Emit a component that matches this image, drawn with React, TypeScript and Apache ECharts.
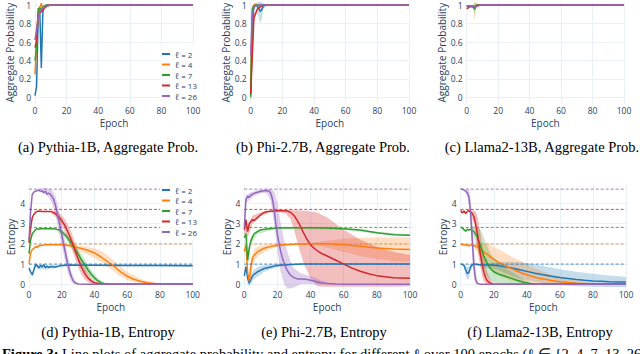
import React, { useEffect, useRef } from 'react';
import * as echarts from 'echarts';

type Pt = [number, number];
type Band = [number, number, number];

const ELLS = ['ℓ = 2', 'ℓ = 4', 'ℓ = 7', 'ℓ = 13', 'ℓ = 26'];
const COLORS = ['#1f77b4', '#ff7f0e', '#2ca02c', '#d62728', '#9467bd'];
const BAND_COLORS = [
  'rgba(31,119,180,0.25)',
  'rgba(255,127,14,0.25)',
  'rgba(44,160,44,0.25)',
  'rgba(214,39,40,0.3)',
  'rgba(148,103,189,0.3)',
];
const MAX_ENTROPY = [1, 2, 2.81, 3.7, 4.7];
const PROB_TICKS = [0, 0.2, 0.4, 0.6, 0.8, 1];
const ENTROPY_TICKS = [0, 1, 2, 3, 4];
const CAPTIONS_TOP = ['(a) Pythia-1B, Aggregate Prob.', '(b) Phi-2.7B, Aggregate Prob.', '(c) Llama2-13B, Aggregate Prob.'];
const CAPTIONS_BOTTOM = ['(d) Pythia-1B, Entropy', '(e) Phi-2.7B, Entropy', '(f) Llama2-13B, Entropy'];

// (a) Pythia-1B aggregate probability
const pythiaProbMean: Pt[][] = [
  [[0, 0.02], [1, 0.12], [2, 0.88], [3, 0.96], [4, 0.32], [5, 0.95], [6, 0.99], [8, 1], [100, 1]],
  [[0, 0.25], [1, 0.62], [2, 0.93], [3, 0.97], [4, 1.02], [5, 0.95], [6, 0.98], [8, 1], [100, 1]],
  [[0, 0.4], [1, 0.55], [2, 0.96], [3, 0.97], [4, 0.95], [5, 0.98], [7, 1], [100, 1]],
  [[0, 0.54], [1, 0.62], [2, 0.88], [3, 0.91], [4, 0.93], [5, 0.94], [6, 0.97], [8, 0.99], [10, 1], [100, 1]],
  [[0, 0.62], [1, 0.74], [2, 0.86], [3, 0.92], [4, 0.95], [5, 0.97], [7, 0.98], [9, 1], [100, 1]],
];
const pythiaProbBand: Band[][] = [[], [], [], [], []];

// (b) Phi-2.7B aggregate probability
const phiProbMean: Pt[][] = [
  [[0, 0.03], [1, 0.75], [2, 0.99], [3, 1], [4, 0.99], [5, 0.97], [6, 0.93], [7, 0.95], [8, 0.99], [10, 1], [100, 1]],
  [[0, 0.08], [1, 0.92], [2, 1], [3, 1.01], [4, 1], [100, 1]],
  [[0, 0], [1, 0.96], [2, 0.99], [3, 1], [100, 1]],
  [[0, 0.04], [1, 0.45], [2, 0.86], [3, 0.9], [4, 0.95], [5, 0.97], [6, 0.98], [8, 1], [100, 1]],
  [[0, 0.45], [1, 0.88], [2, 0.97], [3, 0.99], [5, 1], [100, 1]],
];
const phiProbBand: Band[][] = [
  [[3, 0.99, 1.01], [4, 0.95, 1.03], [5, 0.86, 1.08], [6, 0.8, 1.06], [7, 0.85, 1.05], [8, 0.96, 1.02], [10, 1, 1]],
  [],
  [],
  [[1, 0.25, 0.65], [2, 0.8, 0.92], [3, 0.88, 0.93]],
  [[0, 0.25, 0.7], [1, 0.75, 1.0], [2, 0.95, 0.99], [3, 0.98, 1.0]],
];

// (c) Llama2-13B aggregate probability
const llamaProbMean: Pt[][] = [
  [[0, 0.99], [4, 0.99], [5, 0.97], [6, 0.99], [8, 1], [100, 1]],
  [[0, 0.98], [2, 0.99], [4, 0.98], [5, 0.95], [6, 0.99], [8, 1], [100, 1]],
  [[0, 0.99], [4, 0.99], [5, 0.96], [6, 1], [100, 1]],
  [[0, 0.96], [1, 0.97], [2, 0.98], [3, 0.985], [4, 0.98], [5, 0.975], [6, 0.99], [8, 1], [100, 1]],
  [[0, 0.99], [3, 0.99], [5, 0.98], [7, 0.99], [9, 1], [100, 1]],
];
const llamaProbBand: Band[][] = [
  [[4, 0.98, 1], [5, 0.94, 1.0], [6, 0.98, 1]],
  [[4, 0.97, 0.99], [5, 0.82, 1.06], [6, 0.95, 1.03], [7, 0.99, 1.01]],
  [[4, 0.98, 1.0], [5, 0.9, 1.02], [6, 0.98, 1.02], [7, 1, 1]],
  [],
  [],
];

// (d) Pythia-1B entropy
const pythiaEntMean: Pt[][] = [
  [[0, 0.8], [1, 0.62], [2, 0.46], [3, 0.72], [4, 0.97], [5, 0.93], [6, 0.82], [7, 0.92], [8, 0.86], [9, 0.97], [10, 0.82], [11, 0.9], [12, 0.84], [14, 0.88], [16, 0.86], [18, 0.9], [20, 0.93], [25, 0.95], [30, 0.94], [40, 0.94], [60, 0.93], [80, 0.93], [100, 0.92]],
  [[0, 1.02], [1, 1.55], [2, 1.72], [3, 1.78], [4, 1.86], [5, 1.82], [6, 1.9], [8, 1.93], [10, 1.95], [14, 1.96], [18, 1.96], [20, 1.95], [24, 1.92], [28, 1.85], [32, 1.77], [36, 1.68], [40, 1.55], [44, 1.35], [48, 1.12], [52, 0.88], [56, 0.62], [60, 0.4], [64, 0.25], [68, 0.15], [72, 0.08], [76, 0.04], [80, 0.02], [85, 0], [100, 0]],
  [[0, 1.52], [1, 2.2], [2, 2.5], [3, 2.6], [4, 2.7], [5, 2.75], [6, 2.72], [8, 2.76], [10, 2.74], [12, 2.74], [14, 2.75], [16, 2.73], [18, 2.7], [20, 2.6], [22, 2.45], [24, 2.25], [26, 2.0], [28, 1.75], [30, 1.5], [32, 1.22], [34, 0.98], [36, 0.72], [38, 0.5], [40, 0.32], [42, 0.18], [44, 0.08], [46, 0.03], [50, 0], [100, 0]],
  [[0, 2.05], [1, 2.8], [2, 3.3], [3, 3.45], [4, 3.55], [5, 3.6], [6, 3.62], [8, 3.6], [10, 3.6], [12, 3.6], [14, 3.58], [16, 3.5], [18, 3.35], [20, 3.15], [22, 2.9], [24, 2.55], [26, 2.15], [28, 1.7], [30, 1.25], [32, 0.85], [34, 0.55], [36, 0.32], [38, 0.17], [40, 0.08], [44, 0.02], [48, 0], [100, 0]],
  [[0, 2.2], [1, 3.6], [2, 4.45], [3, 4.55], [4, 4.6], [5, 4.62], [6, 4.66], [7, 4.58], [8, 4.63], [9, 4.52], [10, 4.6], [11, 4.45], [12, 4.5], [13, 4.45], [14, 4.35], [15, 4.2], [16, 3.95], [17, 3.6], [18, 3.25], [19, 2.85], [20, 2.45], [21, 2.05], [22, 1.65], [23, 1.25], [24, 0.9], [25, 0.6], [26, 0.35], [27, 0.18], [28, 0.08], [30, 0.02], [34, 0], [100, 0]],
];
const pythiaEntBand: Band[][] = [
  [[2, 0.35, 0.55], [4, 0.85, 1.05], [6, 0.72, 0.92], [8, 0.76, 0.96], [10, 0.72, 0.92], [12, 0.76, 0.94], [16, 0.8, 0.93], [20, 0.88, 0.97], [30, 0.9, 0.98], [100, 0.88, 0.97]],
  [[20, 1.9, 2.0], [25, 1.85, 1.98], [30, 1.7, 1.92], [35, 1.5, 1.85], [40, 1.3, 1.78], [45, 1.05, 1.62], [50, 0.75, 1.3], [55, 0.45, 0.95], [60, 0.22, 0.62], [65, 0.1, 0.4], [70, 0.03, 0.22], [75, 0, 0.12], [80, 0, 0.06], [85, 0, 0.02]],
  [[18, 2.6, 2.8], [22, 2.3, 2.6], [26, 1.8, 2.2], [30, 1.25, 1.75], [34, 0.7, 1.25], [38, 0.3, 0.7], [42, 0.08, 0.3], [46, 0, 0.08], [50, 0, 0.01]],
  [[14, 3.5, 3.65], [16, 3.35, 3.62], [18, 3.15, 3.55], [20, 2.9, 3.4], [22, 2.6, 3.2], [24, 2.2, 2.9], [26, 1.75, 2.55], [28, 1.3, 2.1], [30, 0.85, 1.65], [32, 0.5, 1.2], [34, 0.25, 0.85], [36, 0.1, 0.55], [38, 0.03, 0.3], [40, 0, 0.15], [44, 0, 0.04]],
  [[8, 4.5, 4.75], [10, 4.45, 4.78], [12, 4.3, 4.72], [14, 4.0, 4.65], [16, 3.5, 4.4], [18, 2.7, 3.8], [20, 1.9, 3.0], [22, 1.15, 2.15], [24, 0.5, 1.3], [26, 0.12, 0.6], [28, 0, 0.2], [30, 0, 0.05]],
];

// (e) Phi-2.7B entropy
const phiEntMean: Pt[][] = [
  [[0, 0.42], [1, 0.88], [2, 0.3], [3, 0.05], [4, 0.25], [5, 0.42], [6, 0.5], [8, 0.62], [10, 0.7], [12, 0.78], [14, 0.82], [16, 0.86], [18, 0.9], [20, 0.93], [24, 0.96], [28, 0.98], [35, 1.0], [50, 1.0], [100, 1.0]],
  [[0, 1.62], [1, 1.95], [2, 0.6], [3, 0.15], [4, 0.9], [5, 1.3], [6, 1.45], [8, 1.6], [10, 1.7], [12, 1.78], [15, 1.85], [20, 1.93], [25, 1.96], [30, 1.98], [40, 2.0], [50, 2.0], [60, 1.95], [70, 1.88], [80, 1.8], [90, 1.75], [100, 1.72]],
  [[0, 2.3], [1, 2.5], [2, 1.2], [3, 1.8], [4, 2.15], [5, 2.35], [6, 2.5], [8, 2.6], [10, 2.7], [12, 2.72], [15, 2.75], [20, 2.78], [30, 2.8], [40, 2.8], [50, 2.78], [60, 2.75], [70, 2.68], [80, 2.55], [90, 2.45], [100, 2.42]],
  [[0, 2.7], [1, 3.2], [2, 2.6], [3, 3.0], [4, 3.1], [5, 3.2], [6, 3.15], [8, 3.3], [10, 3.45], [12, 3.55], [14, 3.6], [18, 3.62], [22, 3.64], [26, 3.62], [28, 3.55], [30, 3.4], [32, 3.15], [34, 2.85], [36, 2.5], [38, 2.2], [40, 1.95], [43, 1.72], [46, 1.55], [50, 1.4], [55, 1.2], [60, 1.0], [65, 0.8], [70, 0.65], [75, 0.52], [80, 0.43], [85, 0.37], [90, 0.33], [100, 0.3]],
  [[0, 2.8], [1, 4.2], [2, 4.35], [3, 4.3], [4, 4.4], [5, 4.45], [6, 4.5], [8, 4.55], [10, 4.6], [12, 4.62], [14, 4.62], [15, 4.6], [16, 4.5], [17, 4.2], [18, 3.7], [19, 3.0], [20, 2.45], [21, 2.0], [22, 1.6], [23, 1.3], [24, 1.05], [25, 0.85], [26, 0.68], [27, 0.55], [28, 0.45], [30, 0.33], [32, 0.27], [35, 0.26], [38, 0.24], [40, 0.2], [43, 0.14], [46, 0.08], [50, 0.04], [55, 0.02], [60, 0.01], [70, 0], [100, 0]],
];
const phiEntBand: Band[][] = [
  [[2, 0, 0.6], [3, -0.1, 0.25], [4, 0.05, 0.5], [6, 0.25, 0.75], [8, 0.4, 0.84], [10, 0.5, 0.9], [12, 0.62, 0.94], [15, 0.72, 0.97], [20, 0.86, 1.0], [25, 0.93, 1.0], [30, 0.97, 1.0], [35, 1.0, 1.0]],
  [[3, 0, 0.5], [4, 0.5, 1.3], [6, 1.15, 1.75], [8, 1.35, 1.85], [10, 1.5, 1.9], [15, 1.72, 1.98], [20, 1.85, 2.0], [30, 1.93, 2.02], [40, 1.95, 2.05], [50, 1.82, 2.15], [60, 1.6, 2.25], [70, 1.4, 2.3], [80, 1.25, 2.32], [90, 1.15, 2.32], [100, 1.1, 2.32]],
  [[1, 2.4, 2.6], [2, 0.8, 1.6], [4, 1.95, 2.35], [8, 2.5, 2.7], [20, 2.74, 2.82], [60, 2.7, 2.8], [80, 2.5, 2.6], [100, 2.38, 2.46]],
  [[0, 2.5, 2.9], [2, 2.3, 2.9], [5, 3.0, 3.4], [10, 3.35, 3.55], [15, 3.55, 3.65], [20, 3.58, 3.68], [25, 3.5, 3.68], [28, 3.2, 3.68], [30, 2.7, 3.66], [33, 1.8, 3.65], [36, 1.0, 3.65], [40, 0.3, 3.6], [44, -0.1, 3.55], [50, -0.12, 3.3], [55, -0.12, 3.0], [60, -0.12, 2.7], [70, -0.12, 2.2], [80, -0.12, 1.85], [90, -0.12, 1.6], [100, -0.1, 1.45]],
  [[0, 2.4, 3.2], [1, 4.0, 4.4], [4, 4.25, 4.55], [8, 4.45, 4.65], [12, 4.52, 4.7], [14, 4.45, 4.72], [16, 4.1, 4.72], [18, 3.0, 4.6], [20, 1.6, 4.0], [22, 0.6, 3.0], [24, 0.0, 2.2], [26, -0.2, 1.6], [28, -0.2, 1.1], [30, -0.15, 0.8], [34, 0.0, 0.55], [38, 0.02, 0.45], [42, 0, 0.35], [46, 0, 0.2], [50, 0, 0.1], [55, 0, 0.04]],
];

// (f) Llama2-13B entropy
const llamaEntMean: Pt[][] = [
  [[0, 1.0], [1, 0.98], [2, 0.92], [3, 0.72], [4, 0.52], [5, 0.6], [6, 0.85], [7, 0.97], [8, 1.0], [10, 0.98], [14, 0.96], [18, 0.95], [22, 0.93], [26, 0.88], [30, 0.82], [35, 0.73], [40, 0.64], [45, 0.55], [50, 0.47], [55, 0.4], [60, 0.34], [65, 0.29], [70, 0.24], [75, 0.2], [80, 0.17], [85, 0.15], [90, 0.13], [95, 0.12], [100, 0.11]],
  [[0, 2.0], [1, 1.95], [2, 1.97], [3, 1.93], [4, 1.95], [5, 1.9], [6, 1.95], [8, 1.92], [10, 1.85], [12, 1.72], [14, 1.6], [16, 1.48], [18, 1.36], [20, 1.24], [22, 1.13], [25, 1.0], [28, 0.88], [30, 0.8], [34, 0.66], [38, 0.52], [42, 0.42], [46, 0.33], [50, 0.26], [55, 0.19], [60, 0.13], [65, 0.09], [70, 0.06], [75, 0.04], [80, 0.02], [90, 0.01], [100, 0]],
  [[0, 2.82], [1, 2.78], [2, 2.7], [3, 2.62], [4, 2.72], [5, 2.68], [6, 2.72], [8, 2.6], [10, 2.35], [12, 1.9], [14, 1.4], [16, 1.05], [18, 0.78], [20, 0.62], [23, 0.5], [26, 0.42], [30, 0.32], [34, 0.2], [38, 0.1], [42, 0.04], [46, 0.01], [50, 0], [100, 0]],
  [[0, 3.65], [1, 3.52], [2, 3.62], [3, 3.5], [4, 3.6], [5, 3.65], [6, 3.55], [7, 3.5], [8, 3.35], [9, 3.0], [10, 2.55], [11, 2.0], [12, 1.45], [13, 0.95], [14, 0.6], [15, 0.35], [16, 0.18], [18, 0.05], [20, 0.01], [22, 0], [100, 0]],
  [[0, 4.72], [1, 4.7], [2, 4.65], [3, 4.6], [4, 4.52], [5, 4.3], [6, 3.5], [7, 2.2], [8, 0.9], [9, 0.25], [10, 0.05], [12, 0], [100, 0]],
];
const llamaEntBand: Band[][] = [
  [[2, 0.85, 1.0], [3, 0.45, 0.95], [4, 0.2, 0.85], [5, 0.3, 0.9], [6, 0.7, 1.0], [8, 0.95, 1.02], [12, 0.88, 1.03], [16, 0.8, 1.05], [20, 0.8, 1.06], [25, 0.62, 1.1], [30, 0.45, 1.12], [35, 0.3, 1.1], [40, 0.2, 1.05], [50, 0.05, 0.9], [60, -0.05, 0.75], [70, -0.1, 0.62], [80, -0.12, 0.52], [90, -0.13, 0.44], [100, -0.14, 0.38]],
  [[8, 1.85, 1.98], [10, 1.6, 2.0], [12, 1.3, 2.0], [15, 1.0, 2.0], [18, 0.75, 1.95], [20, 0.6, 1.85], [25, 0.35, 1.65], [30, 0.2, 1.4], [35, 0.1, 1.2], [40, 0.05, 1.0], [45, 0.02, 0.8], [50, 0, 0.62], [55, 0, 0.48], [60, 0, 0.36], [65, 0, 0.26], [70, 0, 0.18], [75, 0, 0.1], [80, 0, 0.05], [90, 0, 0.02]],
  [[6, 2.6, 2.8], [8, 2.3, 2.85], [10, 1.8, 2.85], [12, 1.2, 2.7], [14, 0.7, 2.3], [16, 0.4, 1.9], [18, 0.2, 1.55], [20, 0.1, 1.3], [24, 0.02, 1.0], [28, 0, 0.75], [32, 0, 0.55], [36, 0, 0.35], [40, 0, 0.15], [44, 0, 0.05]],
  [[6, 3.45, 3.65], [8, 3.0, 3.65], [9, 2.5, 3.6], [10, 1.9, 3.4], [11, 1.3, 3.0], [12, 0.8, 2.5], [13, 0.4, 1.9], [14, 0.15, 1.4], [15, 0.05, 0.9], [16, 0, 0.6], [18, 0, 0.25], [20, 0, 0.05]],
  [[3, 4.5, 4.7], [4, 4.35, 4.7], [5, 3.9, 4.7], [6, 2.8, 4.3], [7, 1.4, 3.2], [8, 0.3, 1.8], [9, 0, 0.7], [10, 0, 0.15], [11, 0, 0.02]],
];

const PANELS = [
  { kind: 'prob', mean: pythiaProbMean, band: pythiaProbBand },
  { kind: 'prob', mean: phiProbMean, band: phiProbBand },
  { kind: 'prob', mean: llamaProbMean, band: llamaProbBand },
  { kind: 'ent', mean: pythiaEntMean, band: pythiaEntBand },
  { kind: 'ent', mean: phiEntMean, band: phiEntBand },
  { kind: 'ent', mean: llamaEntMean, band: llamaEntBand },
];

// layout (pixels)
const LAYOUT = [
  { left: 35, top: 1.8, width: 158, height: 101.7, yNameGap: 15.7, xMargin: 2.5, xNameGap: 14.5 },
  { left: 250.7, top: 1.8, width: 158.3, height: 101.7, yNameGap: 14.7, xMargin: 2.5, xNameGap: 14.5 },
  { left: 466.7, top: 1.8, width: 157.3, height: 101.7, yNameGap: 14.7, xMargin: 2.5, xNameGap: 14.5 },
  { left: 29, top: 185.1, width: 163.7, height: 103.7, yNameGap: 9.7, xMargin: 1.2, xNameGap: 12.9 },
  { left: 244.3, top: 185.1, width: 165.7, height: 103.7, yNameGap: 8.3, xMargin: 1.2, xNameGap: 12.9 },
  { left: 460.7, top: 185.1, width: 165.3, height: 103.7, yNameGap: 8.7, xMargin: 1.2, xNameGap: 12.9 },
];

const FONT = '"Open Sans", "DejaVu Sans", sans-serif';
const SERIF = '"Liberation Serif", "Times New Roman", serif';
const TEXT = '#2a3f5f';
const GRID = '#ebf0f8';

function buildOption(): any {
  const grids: any[] = [];
  const xAxes: any[] = [];
  const yAxes: any[] = [];
  const series: any[] = [];

  PANELS.forEach((p, i) => {
    const L = LAYOUT[i];
    const isProb = p.kind === 'prob';
    grids.push({ left: L.left, top: L.top, width: L.width, height: L.height, containLabel: false, outerBoundsMode: 'none' });
    xAxes.push({
      type: 'value', gridIndex: i, min: 0, max: 100, interval: 20,
      axisLine: { show: false, onZero: false }, axisTick: { show: false },
      splitLine: { show: true, lineStyle: { color: GRID, width: 1 } },
      axisLabel: { fontSize: 8.5, color: TEXT, fontFamily: FONT, margin: L.xMargin },
      name: 'Epoch', nameLocation: 'middle', nameGap: L.xNameGap,
      nameTextStyle: { fontSize: 10, color: TEXT, fontFamily: FONT },
    });
    const ticks = isProb ? PROB_TICKS : ENTROPY_TICKS;
    yAxes.push({
      type: 'value', gridIndex: i,
      min: isProb ? -0.065 : -0.22, max: isProb ? 1.035 : 4.9,
      axisLine: { show: false, onZero: false },
      axisTick: { show: false, customValues: ticks },
      splitLine: { show: true, lineStyle: { color: GRID, width: 1 } },
      axisLabel: { fontSize: 8.5, color: TEXT, fontFamily: FONT, margin: 4, customValues: ticks },
      name: isProb ? 'Aggregate Probability' : 'Entropy', nameLocation: 'middle', nameGap: L.yNameGap,
      nameTextStyle: { fontSize: 10, color: TEXT, fontFamily: FONT },
    });

    p.band.forEach((band, k) => {
      if (!band.length) return;
      series.push({
        type: 'custom', coordinateSystem: 'cartesian2d', xAxisIndex: i, yAxisIndex: i,
        name: `band-${i}-${k}`, silent: true, z: 1,
        data: [[50, 0.5]], encode: { x: 0, y: 1 },
        renderItem: (params: any, api: any) => {
          const cs = params.coordSys;
          const cl = (pt: number[]) => [
            Math.min(Math.max(pt[0], cs.x), cs.x + cs.width),
            Math.min(Math.max(pt[1], cs.y), cs.y + cs.height),
          ];
          const upper = band.map((b) => cl(api.coord([b[0], b[2]])));
          const lower = band.slice().reverse().map((b) => cl(api.coord([b[0], b[1]])));
          return { type: 'polygon', shape: { points: upper.concat(lower) }, style: { fill: BAND_COLORS[k] } };
        },
      });
    });

    if (!isProb) {
      MAX_ENTROPY.forEach((v, k) => {
        series.push({
          type: 'line', xAxisIndex: i, yAxisIndex: i, name: `max-${k}`, z: 3,
          data: [[0, v], [100, v]], symbol: 'none', silent: true, color: COLORS[k],
          lineStyle: { width: 1, type: [3, 2], color: COLORS[k], opacity: 0.85 },
        });
      });
    }

    p.mean.forEach((line, k) => {
      series.push({
        type: 'line', xAxisIndex: i, yAxisIndex: i, name: ELLS[k], z: 2,
        data: line, symbol: 'none', showSymbol: false, color: COLORS[k],
        lineStyle: { width: 1.5, color: COLORS[k] },
      });
    });
  });

  const legendBase = {
    data: ELLS, orient: 'vertical', left: 160, itemWidth: 8, itemHeight: 2, icon: 'rect',
    itemGap: 0.5, padding: [3, 3, 3, 2], backgroundColor: 'rgba(255,255,255,0.92)',
    selectedMode: false,
    textStyle: { fontSize: 8, color: TEXT, fontFamily: FONT, lineHeight: 10 },
  };

  const graphics: any[] = [];
  const topCx = [108, 323, 542];
  const botCx = [108, 324, 540];
  CAPTIONS_TOP.forEach((t, i) => graphics.push({
    type: 'text', x: topCx[i], y: 147,
    style: { text: t, font: `14.5px ${SERIF}`, fill: '#000', textAlign: 'center', textVerticalAlign: 'middle' },
  }));
  CAPTIONS_BOTTOM.forEach((t, i) => graphics.push({
    type: 'text', x: botCx[i], y: 331.5,
    style: { text: t, font: `14.5px ${SERIF}`, fill: '#000', textAlign: 'center', textVerticalAlign: 'middle' },
  }));
  graphics.push({
    type: 'text', x: 2, y: 346.5,
    style: { text: 'Figure 3:', font: `bold 14.5px ${SERIF}`, fill: '#000', textAlign: 'left', textVerticalAlign: 'top' },
  });
  graphics.push({
    type: 'text', x: 62, y: 346.5,
    style: { text: 'Line plots of aggregate probability and entropy for different ℓ over 100 epochs (ℓ ∈ {2, 4, 7, 13, 26}).', font: `14.5px ${SERIF}`, fill: '#000', textAlign: 'left', textVerticalAlign: 'top' },
  });

  return {
    animation: false,
    backgroundColor: '#fff',
    grid: grids,
    xAxis: xAxes,
    yAxis: yAxes,
    legend: [
      { ...legendBase, top: 46 },
      { ...legendBase, top: 182 },
    ],
    series,
    graphic: graphics,
  };
}

export default function App() {
  const ref = useRef<HTMLDivElement>(null);
  useEffect(() => {
    if (!ref.current) return;
    const chart = echarts.init(ref.current, null, { renderer: 'svg' });
    chart.setOption(buildOption());
    return () => chart.dispose();
  }, []);
  return (
    <div
      ref={ref}
      style={{ position: 'fixed', left: 0, top: 0, width: 640, height: 354, background: '#fff' }}
    />
  );
}
